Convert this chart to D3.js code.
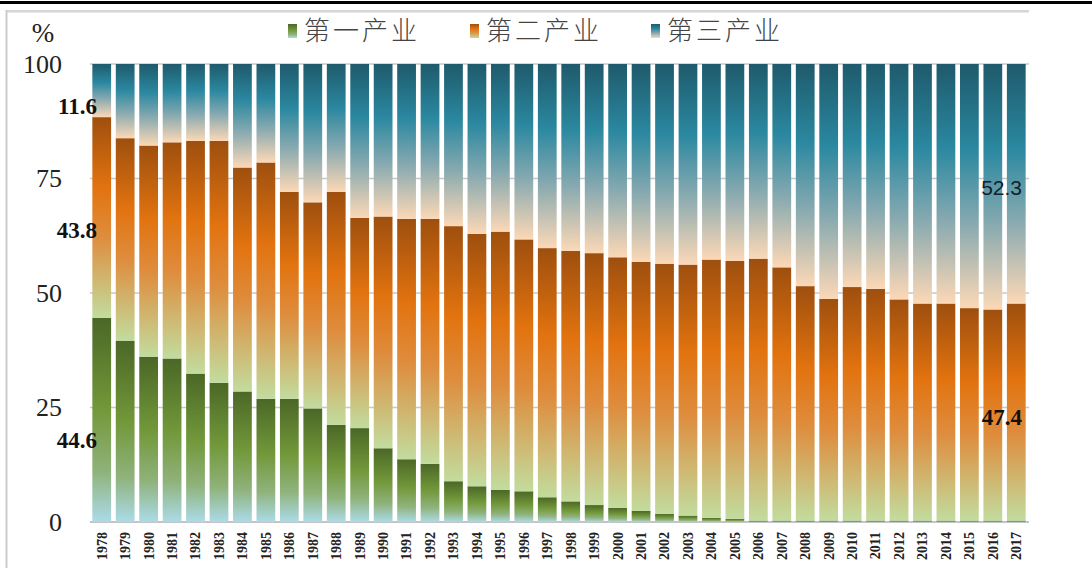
<!DOCTYPE html>
<html>
<head>
<meta charset="utf-8">
<script src="https://cdn.jsdelivr.net/npm/d3@7"></script>
<style>
    body { margin: 0; background: #ffffff; }
    svg { display: block; }
</style>
</head>
<body>
<svg id="svg"></svg>
<script>

// years on the x axis
let years = ["1978","1979","1980","1981","1982","1983","1984","1985","1986","1987",
             "1988","1989","1990","1991","1992","1993","1994","1995","1996","1997",
             "1998","1999","2000","2001","2002","2003","2004","2005","2006","2007",
             "2008","2009","2010","2011","2012","2013","2014","2015","2016","2017"];

// 第一产业 (bottom)
let primary = [44.6, 39.6, 36.1, 35.7, 32.4, 30.4, 28.5, 26.9, 26.9, 24.8,
               21.2, 20.5, 16.1, 13.7, 12.7, 8.9, 7.8, 7.0, 6.7, 5.4,
               4.5, 3.7, 3.1, 2.4, 1.8, 1.4, 0.9, 0.7, 0.3, 0.3,
               0.3, 0.3, 0.3, 0.3, 0.3, 0.3, 0.3, 0.3, 0.3, 0.3];

// 第二产业 (middle)
let secondary = [43.8, 44.2, 46.1, 47.2, 50.8, 52.8, 48.9, 51.6, 45.2, 45.0,
                 50.9, 45.9, 50.6, 52.5, 53.5, 55.7, 55.1, 56.4, 55.0, 54.4,
                 54.7, 55.0, 54.7, 54.4, 54.6, 54.8, 56.4, 56.3, 57.2, 55.3,
                 51.2, 48.4, 51.0, 50.6, 48.3, 47.4, 47.4, 46.4, 46.1, 47.4];

// 第三产业 (top)
let tertiary = [11.6, 16.2, 17.8, 17.1, 16.8, 16.8, 22.6, 21.5, 27.9, 30.2,
                27.9, 33.6, 33.3, 33.8, 33.8, 35.4, 37.1, 36.6, 38.3, 40.2,
                40.8, 41.3, 42.2, 43.2, 43.6, 43.8, 42.7, 43.0, 42.5, 44.4,
                48.5, 51.3, 48.7, 49.1, 51.4, 52.3, 52.3, 53.3, 53.6, 52.3];

let seriesNames = ["第一产业", "第二产业", "第三产业"];
let yTicks = [0, 25, 50, 75, 100];

const width = 1092;
const height = 568;

let svg = d3.select("#svg");

// gradient stops for each series, top of bar first
let gradientStops = [
    [["0%", "#4b6726"], ["45%", "#72983a"], ["75%", "#8fb27a"], ["100%", "#abdbe8"]],
    [["0%", "#9e4f0e"], ["35%", "#e2730f"], ["60%", "#de8d3e"], ["100%", "#c2dc9e"]],
    [["0%", "#1f5a6c"], ["35%", "#2a88a0"], ["65%", "#86a9b0"], ["100%", "#fcd8b6"]]
];

function serifText(sel, size, bold) {
    sel.style("font-family", "'Liberation Serif', 'Times New Roman', serif")
        .style("font-size", size + "px")
        .style("font-weight", bold ? "bold" : "normal");
}

function drawChart() {
    svg.attr("width", width).attr("height", height);

    // top black rule + light frame
    svg.append("rect").attr("x", 0).attr("y", 1).attr("width", width).attr("height", 3).attr("fill", "#000");
    svg.append("rect").attr("x", 6).attr("y", 10).attr("width", 1023).attr("height", 2.5).attr("fill", "#d6d6d6");
    svg.append("rect").attr("x", 5.5).attr("y", 10).attr("width", 2).attr("height", height - 10).attr("fill", "#cccccc");

    let defs = svg.append("defs");
    gradientStops.forEach((stops, i) => {
        let g = defs.append("linearGradient")
            .attr("id", "grad" + i)
            .attr("x1", 0).attr("y1", 0).attr("x2", 0).attr("y2", 1);
        stops.forEach(s => g.append("stop").attr("offset", s[0]).attr("stop-color", s[1]));
    });

    let xScale = d3.scaleBand()
        .domain(years)
        .range([90, 1028])
        .paddingInner(0.2)
        .paddingOuter(0.1);

    let yScale = d3.scaleLinear()
        .domain([0, 100])
        .range([522, 64]);

    // gridlines (behind the bars)
    svg.append("g")
        .selectAll("line")
        .data(yTicks)
        .enter().append("line")
        .attr("x1", 90)
        .attr("x2", 1029)
        .attr("y1", d => yScale(d))
        .attr("y2", d => yScale(d))
        .attr("stroke", d => d == 0 ? "#c4c4c4" : "#c8c8c8")
        .attr("stroke-width", d => d == 0 ? 2 : 1.5);

    // y axis labels
    let yAxis = svg.append("g")
        .attr("transform", "translate(64,0)")
        .call(d3.axisLeft(yScale).tickValues(yTicks).tickSize(0).tickPadding(2));
    yAxis.select(".domain").remove();
    yAxis.selectAll("text")
        .call(serifText, 26, false)
        .attr("fill", "#222");

    svg.append("text")
        .attr("x", 43)
        .attr("y", 42)
        .attr("text-anchor", "middle")
        .call(serifText, 27, false)
        .attr("fill", "#222")
        .text("%");

    // stack the three series
    let table = years.map((y, i) => ({ year: y, s0: primary[i], s1: secondary[i], s2: tertiary[i] }));
    let stacked = d3.stack().keys(["s0", "s1", "s2"])(table);

    svg.append("g")
        .selectAll("g")
        .data(stacked)
        .enter().append("g")
        .attr("fill", (d, i) => "url(#grad" + i + ")")
        .selectAll("rect")
        .data(d => d)
        .enter().append("rect")
        .attr("x", d => xScale(d.data.year))
        .attr("y", d => yScale(d[1]))
        .attr("width", xScale.bandwidth())
        .attr("height", d => Math.max(1.5, yScale(d[0]) - yScale(d[1])));

    // x axis labels, rotated
    let xAxis = svg.append("g")
        .attr("transform", "translate(0,522)")
        .call(d3.axisBottom(xScale).tickSize(0).tickPadding(0));
    xAxis.select(".domain").remove();
    xAxis.selectAll("text")
        .attr("transform", "rotate(-90)")
        .attr("x", -10)
        .attr("y", 0)
        .attr("dy", "0.35em")
        .attr("text-anchor", "end")
        .call(serifText, 14, true)
        .attr("fill", "#222");

    // value labels: first year on the left, last year on the right
    let first = 0, last = years.length - 1;
    let leftLabels = [
        { v: 90.8, t: tertiary[first] },
        { v: 63.8, t: secondary[first] },
        { v: 17.9, t: primary[first] }
    ];
    leftLabels.forEach(l => {
        svg.append("text")
            .attr("x", 97)
            .attr("y", yScale(l.v))
            .attr("dy", "0.35em")
            .attr("text-anchor", "end")
            .call(serifText, 23, true)
            .attr("fill", "#111")
            .text(l.t.toFixed(1));
    });

    svg.append("text")
        .attr("x", 1022)
        .attr("y", yScale(73.1))
        .attr("dy", "0.35em")
        .attr("text-anchor", "end")
        .style("font-family", "'Liberation Sans', Arial, sans-serif")
        .style("font-size", "21px")
        .attr("fill", "#15202c")
        .text(tertiary[last].toFixed(1));

    svg.append("text")
        .attr("x", 1022)
        .attr("y", yScale(22.9))
        .attr("dy", "0.35em")
        .attr("text-anchor", "end")
        .call(serifText, 23, true)
        .attr("fill", "#111")
        .text(secondary[last].toFixed(1));

    // legend
    let legendX = [288, 470, 651];
    let legend = svg.append("g");
    seriesNames.forEach((name, i) => {
        legend.append("rect")
            .attr("x", legendX[i])
            .attr("y", 24)
            .attr("width", 9)
            .attr("height", 14)
            .attr("fill", "url(#grad" + i + ")");
        legend.append("text")
            .attr("x", legendX[i] + 16)
            .attr("y", 40)
            .style("font-family", "'Noto Sans CJK SC', sans-serif")
            .style("font-size", "26px")
            .style("font-weight", "300")
            .style("letter-spacing", "3px")
            .attr("fill", "#444")
            .text(name);
    });
}

drawChart();

</script>
</body>
</html>
